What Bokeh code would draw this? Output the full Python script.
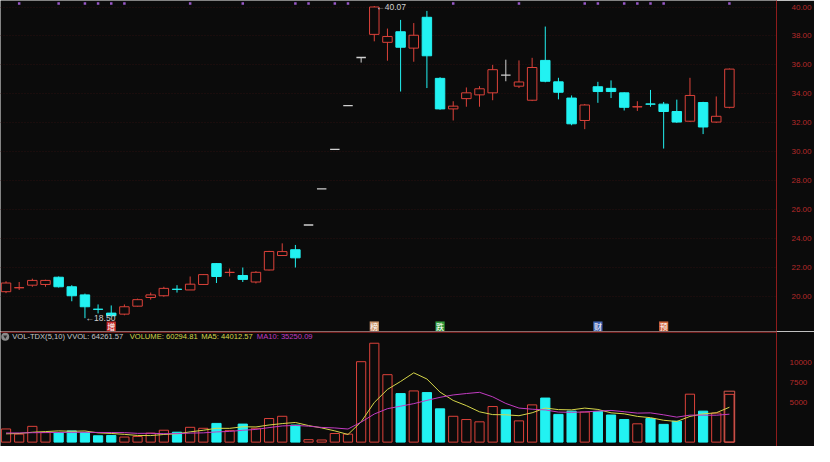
import numpy as np
from bokeh.plotting import figure
from bokeh.models import Range1d, FixedTicker, Label, NumeralTickFormatter, Span
from bokeh.layouts import column
from bokeh.embed import file_html
from bokeh.resources import INLINE
from bokeh.core.properties import value

# ---------------- data ----------------
opens = [20.33, 20.60, 20.78, 20.83, 21.33, 20.67, 20.11, 19.12, 18.85, 18.78,
         19.33, 19.93, 20.05, 20.50, 20.45, 20.83, 22.27, 21.66, 21.45, 21.00,
         21.83, 22.83, 23.23, 24.94, 27.43, 30.17, 33.19, 36.51, 38.11, 37.56,
         38.29, 37.16, 39.29, 35.07, 32.96, 33.67, 33.93, 34.07, 35.29, 34.53,
         33.56, 36.31, 34.83, 33.71, 32.16, 34.49, 34.38, 34.07, 33.10, 33.30,
         33.29, 32.78, 32.11, 33.40, 32.05, 33.07]
closes = [20.93, 20.61, 21.11, 21.11, 20.67, 20.05, 19.29, 19.11, 18.67, 19.29,
          19.78, 20.11, 20.56, 20.49, 20.85, 21.51, 21.38, 21.67, 21.18, 21.67,
          23.11, 23.10, 22.67, 24.94, 27.43, 30.17, 33.19, 36.51, 40.00, 37.96,
          37.22, 38.05, 36.63, 32.96, 33.15, 34.07, 34.35, 35.67, 35.29, 34.82,
          35.82, 34.87, 34.11, 31.93, 33.23, 34.16, 34.16, 33.07, 33.11, 33.29,
          32.78, 32.05, 33.89, 31.71, 32.45, 35.71]
highs = [21.05, 21.00, 21.23, 21.16, 21.38, 20.78, 20.20, 19.45, 19.38, 19.45,
         19.85, 20.27, 20.67, 20.78, 21.38, 21.55, 22.30, 21.93, 22.00, 21.75,
         23.15, 23.67, 23.56, 24.94, 27.43, 30.17, 33.19, 36.51, 40.07, 38.51,
         39.11, 38.89, 39.73, 35.15, 33.49, 34.44, 34.53, 36.00, 36.36, 36.31,
         36.49, 38.65, 35.11, 33.89, 33.30, 34.83, 34.93, 34.10, 33.49, 34.27,
         33.44, 33.60, 35.11, 33.45, 33.82, 35.75]
lows = [20.23, 20.45, 20.67, 20.67, 20.62, 19.67, 18.50, 18.83, 18.63, 18.70,
        19.30, 19.78, 19.98, 20.27, 20.45, 20.80, 20.93, 21.38, 21.00, 20.90,
        21.80, 22.80, 22.00, 24.94, 27.43, 30.17, 33.19, 36.16, 37.63, 36.29,
        34.16, 36.22, 34.40, 32.90, 32.16, 33.11, 33.11, 33.56, 34.87, 34.40,
        33.50, 34.80, 33.62, 31.83, 31.56, 33.38, 33.71, 32.85, 32.82, 33.11,
        30.22, 32.00, 32.05, 31.22, 32.00, 33.00]
volumes = [1660, 1010, 1990, 1210, 1210, 1415, 1210, 800, 840, 640,
           715, 1130, 1500, 1250, 1870, 1745, 2360, 1450, 2275, 1745,
           2975, 3260, 2150, 310, 270, 1085, 1010, 10150, 12480, 8510,
           6125, 6460, 6250, 4200, 3260, 2850, 2560, 4490, 4080, 2680,
           4700, 5560, 3500, 3910, 3790, 3870, 3420, 2850, 2310, 2975,
           2240, 2640, 6050, 3910, 3665, 6029]
vvol_last = 6426
ma5 = [1045, 1085, 1250, 1330, 1416, 1367, 1407, 1169, 1095, 981,
       841, 825, 965, 1047, 1293, 1499, 1745, 1735, 1940, 1915,
       2161, 2341, 2481, 2088, 1793, 1415, 965, 2565, 5000, 6647,
       7655, 8745, 7965, 6309, 5259, 4604, 3824, 3472, 3448, 3332,
       3702, 4302, 4104, 4070, 4292, 4126, 3698, 3568, 3248, 3085,
       2759, 2603, 3243, 3563, 3701, 4401]
ma10 = [1150, 1160, 1190, 1200, 1220, 1230, 1240, 1220, 1210, 1199,
        1104, 1116, 1067, 1071, 1137, 1170, 1285, 1350, 1494, 1604,
        1830, 2043, 2108, 2014, 1854, 1788, 1653, 2523, 3544, 4220,
        4535, 4855, 5265, 5654, 5953, 6130, 6285, 5719, 4879, 4296,
        4153, 4063, 3788, 3759, 3812, 3914, 4000, 3836, 3659, 3689,
        3443, 3151, 3406, 3406, 3393, 3525]
price_ticks = [20, 22, 24, 26, 28, 30, 32, 34, 36, 38, 40]
vol_ticks = [5000, 7500, 10000]
dot_days = [1, 4, 6, 7, 8, 9, 14, 18, 22, 23, 25, 26, 34, 39, 44, 45, 47, 48, 49, 50, 55]
event_days = [8, 28, 33, 45, 50]
event_text = ["增", "榜", "跌", "财", "预"]
event_colors = ["#c22a2a", "#c9956a", "#2f9a3a", "#3f62b0", "#d0643a"]
header_parts = ["VOL-TDX(5,10) VVOL: 64261.57", "VOLUME: 60294.81", "MA5: 44012.57", "MA10: 35250.09"]

N = len(opens)
assert len(closes) == N and len(highs) == N and len(lows) == N and len(volumes) == N
assert len(ma5) == N and len(ma10) == N

BG = "#0b0b0b"
RED = "#dc423a"
CYAN = "#22f2f2"
WHITE = "#d0d0d0"
AXIS = "#8e1c1c"
TICKTXT = "#b52a2a"
YEL = "#d6d64a"
MAG = "#c23cc2"
FONT = "Liberation Sans"

x = np.arange(N)
o = np.array(opens); c = np.array(closes); h = np.array(highs); l = np.array(lows)
ccol = [RED if c[i] > o[i] else (CYAN if c[i] < o[i] else WHITE) for i in range(N)]
vcol = []
for i in range(N):
    if c[i] > o[i]:
        vcol.append(RED)
    elif c[i] < o[i]:
        vcol.append(CYAN)
    else:
        vcol.append(RED if i == 0 or c[i] >= c[i - 1] else CYAN)

XR = Range1d(-0.42, 58.58)
BW = 0.72

# ---------------- price panel ----------------
p1 = figure(width=814, height=331, x_range=XR, y_range=Range1d(17.58, 40.45),
            output_backend="svg", toolbar_location=None,
            x_axis_location=None, y_axis_location="right",
            background_fill_color=BG, border_fill_color=BG,
            min_border_left=0, min_border_top=0, min_border_bottom=0, min_border_right=36)
p1.outline_line_color = None
p1.xgrid.visible = False
p1.ygrid.grid_line_color = "#2a1111"
p1.ygrid.grid_line_dash = "1 2"
ax = p1.yaxis[0]
ax.ticker = FixedTicker(ticks=price_ticks)
ax.formatter = NumeralTickFormatter(format="0.00")
ax.axis_line_color = AXIS
ax.major_tick_line_color = None
ax.minor_tick_line_color = None
ax.major_label_standoff = 9
ax.major_label_text_color = TICKTXT
ax.major_label_text_font = FONT
ax.major_label_text_font_size = "8px"

# wicks
p1.segment(x0=x, y0=l, x1=x, y1=h, line_color=ccol, line_width=1)
inc = c > o
dec = c < o
flat = c == o
p1.vbar(x=x[inc], width=BW, top=c[inc], bottom=o[inc], fill_color=BG, line_color=RED, line_width=1)
p1.vbar(x=x[dec], width=BW, top=o[dec], bottom=c[dec], fill_color=CYAN, line_color=CYAN, line_width=1)
p1.segment(x0=x[flat] - BW / 2, y0=o[flat], x1=x[flat] + BW / 2, y1=o[flat], line_color=WHITE, line_width=1.3)

# high / low annotations
hi_i = int(np.argmax(h)); lo_i = int(np.argmin(l))
p1.add_layout(Label(x=hi_i + 0.15, y=h[hi_i] - 0.05, text="←%.2f" % h[hi_i], text_color=WHITE,
                    text_font=FONT, text_font_size="8.5px", text_baseline="middle"))
p1.add_layout(Label(x=lo_i + 0.05, y=l[lo_i], text="←%.2f" % l[lo_i], text_color=WHITE,
                    text_font=FONT, text_font_size="8.5px", text_baseline="middle"))

# small purple marks along top
p1.scatter(x=dot_days, y=[40.25] * len(dot_days), marker="square", size=2.5,
           fill_color="#9a58c8", line_color=None)

# event boxes at the bottom of price panel
p1.rect(x=event_days, y=[17.93] * len(event_days), width=0.7, height=10, height_units="screen",
        fill_color=event_colors, line_color=None)
p1.text(x=event_days, y=[17.93] * len(event_days), text=event_text, text_color="#ffffff",
        text_font=value("Noto Sans CJK SC"), text_font_size="8px",
        text_align="center", text_baseline="middle")

# ---------------- volume panel ----------------
VTOP = 13960
p2 = figure(width=814, height=115, x_range=XR, y_range=Range1d(-553, VTOP),
            output_backend="svg", toolbar_location=None,
            x_axis_location=None, y_axis_location="right",
            background_fill_color=BG, border_fill_color=BG,
            min_border_left=0, min_border_top=0, min_border_bottom=0, min_border_right=36)
p2.outline_line_color = None
p2.grid.visible = False
ax2 = p2.yaxis[0]
ax2.ticker = FixedTicker(ticks=vol_ticks)
ax2.formatter = NumeralTickFormatter(format="0")
ax2.axis_line_color = AXIS
ax2.major_tick_line_color = None
ax2.minor_tick_line_color = None
ax2.major_label_standoff = 7
ax2.major_label_text_color = TICKTXT
ax2.major_label_text_font = FONT
ax2.major_label_text_font_size = "8px"

# separator between panels
p2.add_layout(Span(location=VTOP - 70, dimension="width", line_color=AXIS, line_width=1.2))

vol = np.array(volumes)
vred = np.array([col == RED for col in vcol])
p2.vbar(x=x[vred], width=0.70, top=vol[vred], bottom=0, fill_color=None, line_color=RED, line_width=1)
p2.vbar(x=x[~vred], width=0.70, top=vol[~vred], bottom=0, fill_color=CYAN, line_color=CYAN, line_width=1)
p2.vbar(x=[N - 1], width=0.80, top=[vvol_last], bottom=0, fill_color=None, line_color="#d85a50", line_width=1)
p2.line(x=x, y=ma5, line_color=YEL, line_width=1)
p2.line(x=x, y=ma10, line_color=MAG, line_width=1)

# header
p2.scatter(x=[-0.06], y=[13300], marker="circle", size=8, fill_color="#8a8a8a", line_color=None)
p2.scatter(x=[-0.06], y=[13300], marker="triangle", size=4, angle=np.pi, fill_color="#2a2a2a", line_color=None)
hx = [0.47, 9.4, 14.84, 19.07]
hc = ["#c8c8c8", YEL, YEL, MAG]
for xx, tt, cc in zip(hx, header_parts, hc):
    p2.add_layout(Label(x=xx, y=13300, text=tt, text_color=cc, text_font=FONT,
                        text_font_size="7.6px", text_baseline="middle"))

p2.add_layout(Label(x=782, y=5, x_units="screen", y_units="screen", text="10", text_color="#b02828",
                    text_font=FONT, text_font_size="7px",
                    border_line_color="#8e1c1c", border_line_width=1, padding=2))

layout = column(p1, p2, spacing=0)

with open("out.html", "w") as f:
    f.write(file_html(layout, INLINE))
